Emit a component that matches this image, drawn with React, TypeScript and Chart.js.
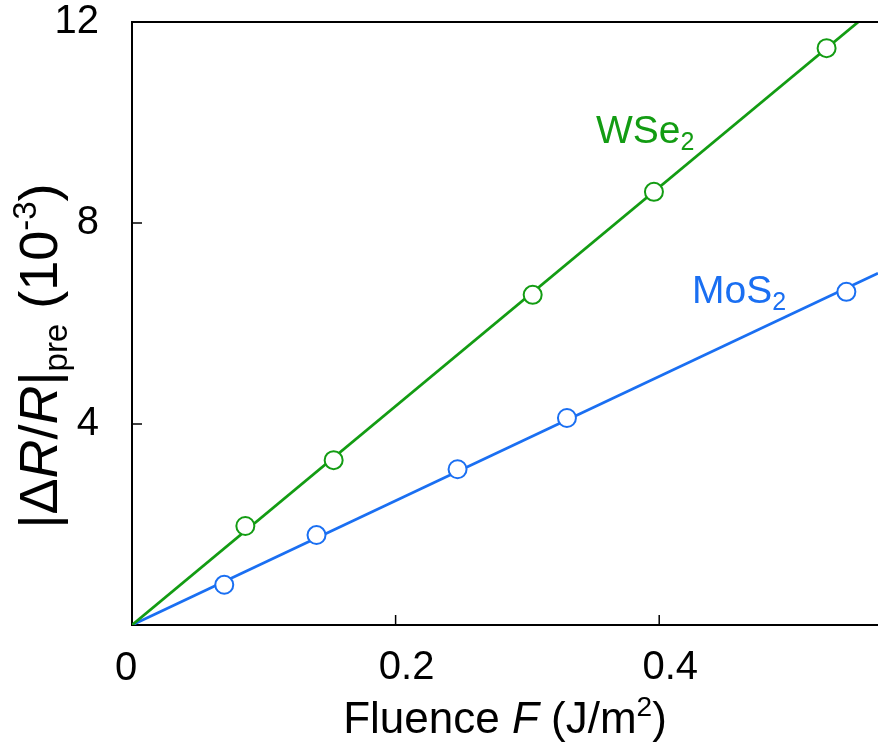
import React, { useEffect, useRef } from "react";
import { Chart, registerables } from "chart.js";

Chart.register(...registerables);

// Data
const fluenceWSe2 = [0.086, 0.153, 0.304, 0.396, 0.527];
const signalWSe2 = [1.97, 3.28, 6.57, 8.62, 11.48];
const fluenceMoS2 = [0.07, 0.14, 0.247, 0.33, 0.542];
const signalMoS2 = [0.8, 1.79, 3.1, 4.12, 6.63];
// linear fit lines (through origin)
const fitFluenceWSe2 = [0, 0.551];
const fitSignalWSe2 = [0, 12];
const fitFluenceMoS2 = [0, 0.566];
const fitSignalMoS2 = [0, 7.0];
// axes
const xMin = 0;
const xMax = 0.566;
const xStep = 0.2;
const yMin = 0;
const yMax = 12;
const yStep = 4;

const GREEN = "#139c13";
const BLUE = "#1a6ff2";
const FONT = "'Liberation Sans', Arial, Helvetica, sans-serif";

type Seg = { t: string; italic?: boolean; size: number; shift?: number };

function drawSegs(ctx: CanvasRenderingContext2D, segs: Seg[], x: number, y: number, align: "left" | "center") {
  let total = 0;
  const widths = segs.map((s) => {
    ctx.font = `${s.italic ? "italic " : ""}${s.size}px ${FONT}`;
    const w = ctx.measureText(s.t).width;
    total += w;
    return w;
  });
  let cx = align === "center" ? x - total / 2 : x;
  ctx.textBaseline = "alphabetic";
  ctx.textAlign = "left";
  segs.forEach((s, i) => {
    ctx.font = `${s.italic ? "italic " : ""}${s.size}px ${FONT}`;
    ctx.fillText(s.t, cx, y + (s.shift || 0));
    cx += widths[i];
  });
}

const decorPlugin = {
  id: "decor",
  afterDraw(chart: any) {
    const ctx: CanvasRenderingContext2D = chart.ctx;
    const { left, right, top, bottom } = chart.chartArea;
    const xs = chart.scales.x;
    const ys = chart.scales.y;
    ctx.save();
    // top border
    ctx.strokeStyle = "#000";
    ctx.lineWidth = 2;
    ctx.beginPath();
    ctx.moveTo(left - 1, top);
    ctx.lineTo(right, top);
    ctx.stroke();
    // inward ticks
    ctx.lineWidth = 1.5;
    xs.ticks.forEach((t: any) => {
      if (t.value === 0) return;
      const px = xs.getPixelForValue(t.value);
      ctx.beginPath();
      ctx.moveTo(px, bottom);
      ctx.lineTo(px, bottom - 10);
      ctx.stroke();
    });
    ys.ticks.forEach((t: any) => {
      if (t.value === 0 || t.value === yMax) return;
      const py = ys.getPixelForValue(t.value);
      ctx.beginPath();
      ctx.moveTo(left, py);
      ctx.lineTo(left + 10, py);
      ctx.stroke();
    });
    // shared origin label
    ctx.fillStyle = "#000";
    ctx.font = `40px ${FONT}`;
    ctx.textAlign = "center";
    ctx.textBaseline = "alphabetic";
    ctx.fillText("0", xs.getPixelForValue(0) - 6, 680);

    // x-axis title
    ctx.fillStyle = "#000";
    drawSegs(
      ctx,
      [
        { t: "Fluence ", size: 44 },
        { t: "F", size: 44, italic: true },
        { t: " (J/m", size: 44 },
        { t: "2", size: 28, shift: -17 },
        { t: ")", size: 44 },
      ],
      (left + right) / 2,
      733,
      "center"
    );

    // y-axis title (rotated)
    ctx.save();
    ctx.translate(57, 356);
    ctx.rotate(-Math.PI / 2);
    drawSegs(
      ctx,
      [
        { t: "|Δ", size: 54 },
        { t: "R", size: 54, italic: true },
        { t: "/", size: 54 },
        { t: "R", size: 54, italic: true },
        { t: "|", size: 54 },
        { t: "pre", size: 33, shift: 10 },
        { t: " (10", size: 54 },
        { t: "-3", size: 33, shift: -21 },
        { t: ")", size: 54 },
      ],
      0,
      0,
      "center"
    );
    ctx.restore();

    // series labels
    ctx.fillStyle = GREEN;
    drawSegs(
      ctx,
      [
        { t: "WSe", size: 39 },
        { t: "2", size: 25, shift: 7 },
      ],
      596,
      143,
      "left"
    );
    ctx.fillStyle = BLUE;
    drawSegs(
      ctx,
      [
        { t: "MoS", size: 39 },
        { t: "2", size: 25, shift: 7 },
      ],
      692,
      303,
      "left"
    );
    ctx.restore();
  },
};

export default function App() {
  const ref = useRef<HTMLCanvasElement>(null);
  useEffect(() => {
    if (!ref.current) return;
    const toXY = (xs: number[], ys: number[]) => xs.map((x, i) => ({ x, y: ys[i] }));
    const chart = new Chart(ref.current, {
      type: "scatter",
      data: {
        datasets: [
          {
            label: "WSe2",
            data: toXY(fluenceWSe2, signalWSe2),
            pointRadius: 9,
            pointBorderWidth: 2,
            pointBackgroundColor: "#fff",
            pointBorderColor: GREEN,
            showLine: false,
            order: 0,
          },
          {
            label: "MoS2",
            data: toXY(fluenceMoS2, signalMoS2),
            pointRadius: 9,
            pointBorderWidth: 2,
            pointBackgroundColor: "#fff",
            pointBorderColor: BLUE,
            showLine: false,
            order: 0,
          },
          {
            label: "WSe2 fit",
            data: toXY(fitFluenceWSe2, fitSignalWSe2),
            showLine: true,
            borderColor: GREEN,
            borderWidth: 2.8,
            pointRadius: 0,
            clip: 0,
            order: 1,
          },
          {
            label: "MoS2 fit",
            data: toXY(fitFluenceMoS2, fitSignalMoS2),
            showLine: true,
            borderColor: BLUE,
            borderWidth: 2.8,
            pointRadius: 0,
            clip: 0,
            order: 1,
          },
        ],
      },
      plugins: [decorPlugin],
      options: {
        animation: false,
        responsive: false,
        maintainAspectRatio: false,
        layout: { autoPadding: false, padding: { top: 22, right: 0, bottom: 0, left: 0 } },
        plugins: { legend: { display: false }, tooltip: { enabled: false } },
        scales: {
          x: {
            type: "linear",
            min: xMin,
            max: xMax,
            grid: { display: false },
            border: { display: true, color: "#000", width: 2 },
            ticks: {
              stepSize: xStep,
              includeBounds: false,
              padding: 11,
              labelOffset: 11,
              color: "#000",
              font: { family: FONT, size: 40 },
              maxRotation: 0,
              callback: (v: any) => (v === 0 ? "" : String(Math.round(v * 10) / 10)),
            },
            afterFit: (s: any) => {
              s.height = 128;
              s.paddingLeft = 0;
              s.paddingRight = 0;
              s.paddingTop = 0;
              s.paddingBottom = 0;
            },
          },
          y: {
            type: "linear",
            min: yMin,
            max: yMax,
            grid: { display: false },
            border: { display: true, color: "#000", width: 2 },
            ticks: {
              stepSize: yStep,
              padding: 25,
              color: "#000",
              font: { family: FONT, size: 40 },
              callback: (v: any) => (v === 0 ? "" : String(v)),
            },
            afterFit: (s: any) => {
              s.width = 132;
              s.paddingLeft = 0;
              s.paddingRight = 0;
              s.paddingTop = 0;
              s.paddingBottom = 0;
            },
          },
        },
      },
    });
    return () => chart.destroy();
  }, []);
  return (
    <div style={{ position: "absolute", left: 0, top: 0, width: 878, height: 753, background: "#fff" }}>
      <canvas ref={ref} width={878} height={753} style={{ width: 878, height: 753, display: "block" }} />
    </div>
  );
}
